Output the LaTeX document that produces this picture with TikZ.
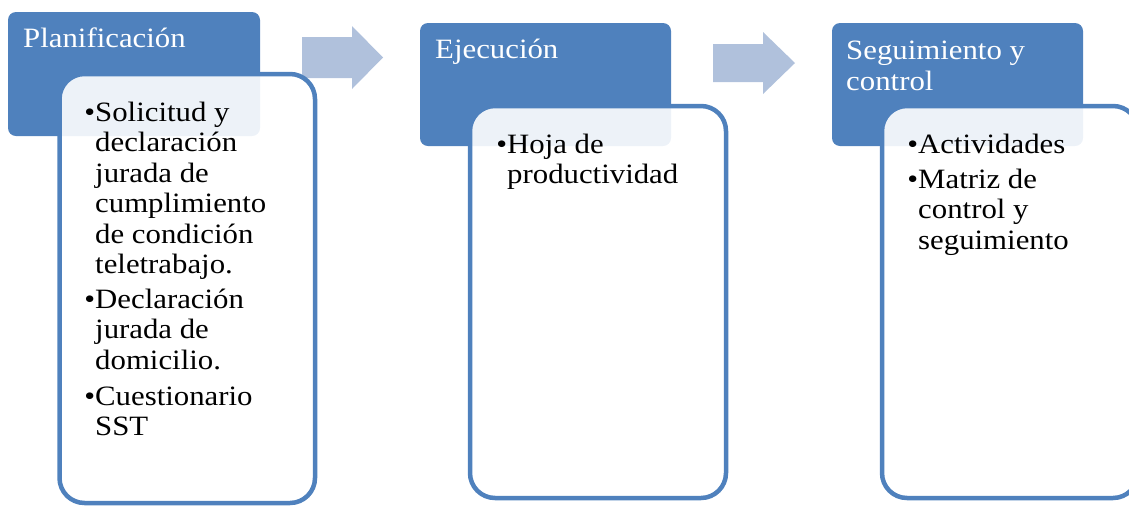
\documentclass[tikz,border=0pt]{standalone}
\usepackage{fontspec}
\setmainfont[FakeStretch=1.1]{Liberation Serif}
\definecolor{hdrblue}{RGB}{79,129,189}
\definecolor{arrowblue}{RGB}{176,193,220}
\begin{document}
\begin{tikzpicture}[x=1pt,y=-1pt,
  header/.style={fill=hdrblue, rounded corners=8pt},
  card/.style={draw=hdrblue, line width=4.5pt, fill=white, fill opacity=0.9, rounded corners=25pt},
  blockarrow/.style={fill=arrowblue},
  hdrtext/.style={anchor=base west, inner sep=0pt, text=white, align=left,
    font=\fontsize{28}{31}\selectfont},
  body/.style={anchor=base west, inner sep=0pt, text=black, align=left,
    font=\fontsize{28}{30.5}\selectfont}]
\useasboundingbox (0,0) rectangle (1129,507);
% headers
\fill[header] (8,12) rectangle (260,136);
\fill[header] (420,23) rectangle (671,146);
\fill[header] (832,23) rectangle (1083,146);
% arrows
\fill[blockarrow] (302,37) -- (352,37) -- (352,26) -- (383,57.5) -- (352,89) -- (352,78) -- (302,78) -- cycle;
\fill[blockarrow] (713,44) -- (763,44) -- (763,32) -- (795,63) -- (763,94) -- (763,82) -- (713,82) -- cycle;
% cards
\draw[card] (59.5,74) rectangle (315,503);
\draw[card] (470,106) rectangle (726,498);
\draw[card] (882,106) rectangle (1138,498);
% header texts (anchor = baseline of last line)
\node[hdrtext] (h1) at (23,47) {Planificación};
\node[hdrtext] (h2) at (435,58) {Ejecución};
\node[hdrtext] (h3) at (846,90) {Seguimiento y\\control};
% body texts (anchor = baseline of last line)
\node[body] (a1) at (95,273.5) {\llap{•}Solicitud y\\declaración\\jurada de\\cumplimiento\\de condición\\teletrabajo.};
\node[body] (a2) at (95,369) {\llap{•}Declaración\\jurada de\\domicilio.};
\node[body] (a3) at (95,435.5) {\llap{•}Cuestionario\\SST};
\node[body] (b1) at (507,183.5) {\llap{•}Hoja de\\productividad};
\node[body] (c1) at (918,153) {\llap{•}Actividades};
\node[body] (c2) at (918,249) {\llap{•}Matriz de\\control y\\seguimiento};
\end{tikzpicture}
\end{document}
